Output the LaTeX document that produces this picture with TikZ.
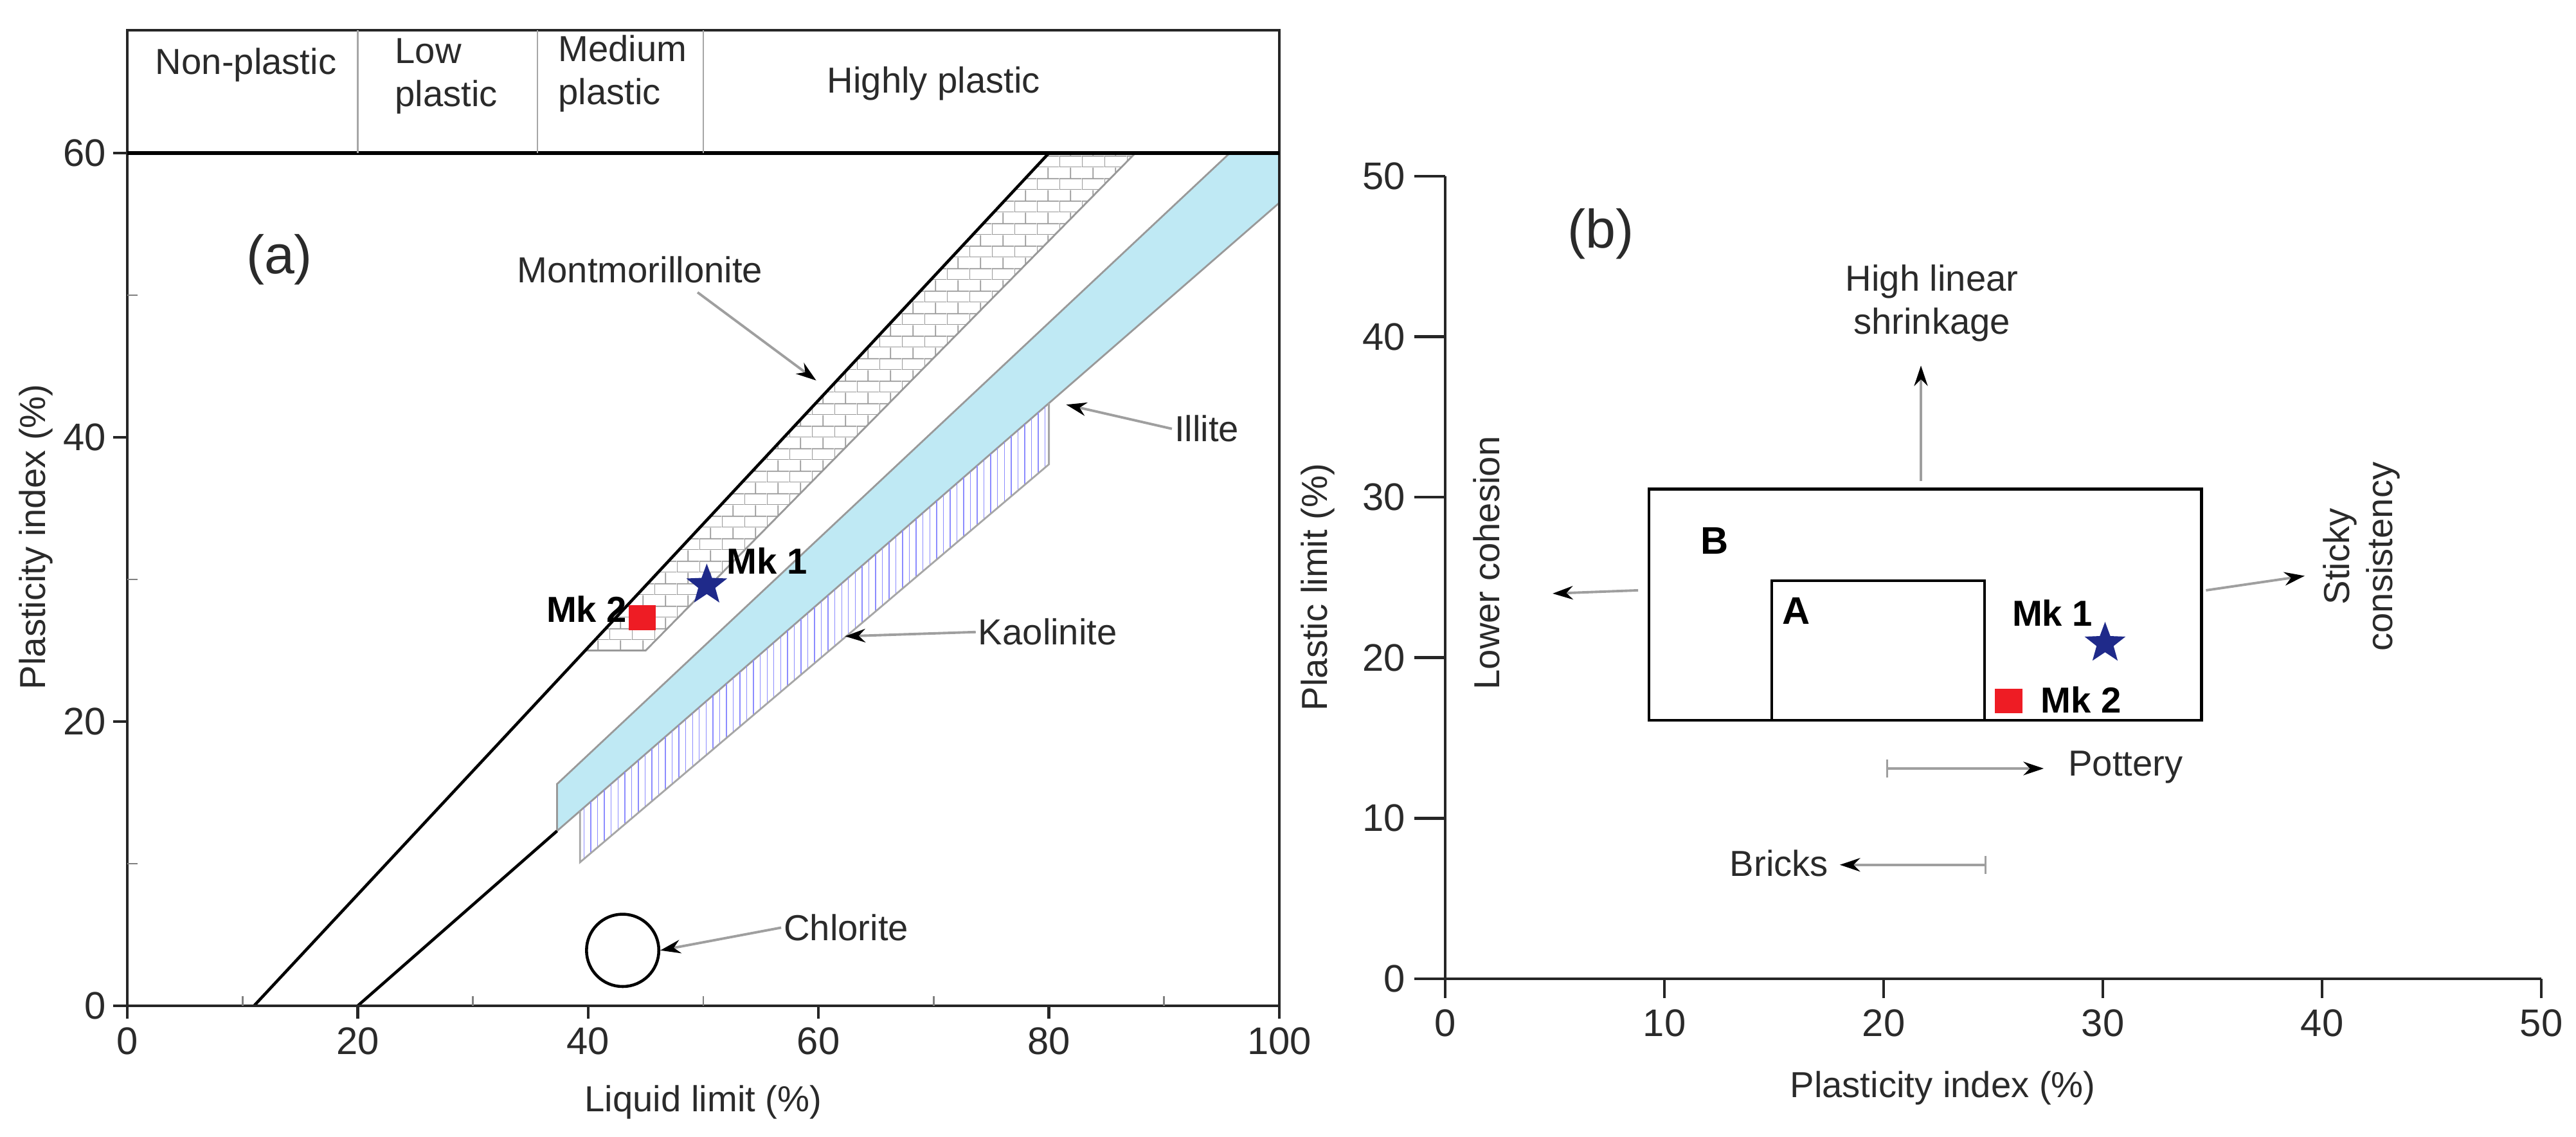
\documentclass[tikz,border=0pt]{standalone}
\usepackage{fontspec}
\setmainfont{Liberation Sans}
\usetikzlibrary{patterns,shapes.geometric,arrows.meta}
\definecolor{txt}{HTML}{2A2A2A}
\definecolor{illite}{HTML}{BFE9F4}
\definecolor{navy}{HTML}{1F2A8A}
\definecolor{mkred}{HTML}{EE1C24}
\pgfdeclarepatternformonly{mybricks}{\pgfpointorigin}{\pgfpoint{10pt}{10pt}}{\pgfpoint{10pt}{10pt}}{%
  \pgfsetlinewidth{0.5pt}
  \pgfpathmoveto{\pgfpoint{0pt}{0pt}}\pgfpathlineto{\pgfpoint{10pt}{0pt}}
  \pgfpathmoveto{\pgfpoint{0pt}{5pt}}\pgfpathlineto{\pgfpoint{10pt}{5pt}}
  \pgfpathmoveto{\pgfpoint{0pt}{0pt}}\pgfpathlineto{\pgfpoint{0pt}{5pt}}
  \pgfpathmoveto{\pgfpoint{5pt}{5pt}}\pgfpathlineto{\pgfpoint{5pt}{10pt}}
  \pgfusepath{stroke}}
\tikzset{
  t/.style={text=txt,font=\fontsize{16}{19}\selectfont,inner sep=1pt},
  tick/.style={text=txt,font=\fontsize{17}{20}\selectfont,inner sep=2pt},
  mk/.style={text=black,font=\bfseries\fontsize{16}{19}\selectfont,inner sep=1pt},
  ptr/.style={draw=gray!75,line width=1.1pt,-{Stealth[black,length=9pt,width=6pt]}},
  ax/.style={line width=1.3pt,black!85},
  star5/.style={star,star points=5,star point ratio=2.4,fill=navy,inner sep=0pt,minimum size=19pt},
  sq/.style={fill=mkred,inner sep=0pt,minimum width=12pt,minimum height=11pt}
}
\begin{document}
\begin{tikzpicture}
\useasboundingbox[fill=white] (0,0) rectangle (40.07,17.68);
% ================= panel (a)
\begin{scope}[shift={(1.98,2.04)},xscale=0.1792,yscale=0.221]
 \path[pattern=mybricks,pattern color=gray!80] (39.75,25)--(45,25)--(87.5,60)--(80,60)--cycle;
 \draw[gray!80,line width=0.8pt] (39.75,25)--(45,25)--(87.5,60);
 \filldraw[fill=illite,draw=gray!80,line width=0.8pt] (37.3,12.3)--(37.3,15.6)--(95.7,60)--(100,60)--(100,56.5)--cycle;
 \path[pattern=vertical lines,pattern color=blue!45] (39.3,10.1)--(39.3,13.7)--(80,42.4)--(80,38.1)--cycle;
 \draw[gray!70,line width=0.8pt] (39.3,13.7)--(39.3,10.1)--(80,38.1)--(80,42.4);
 \draw[line width=1.3pt] (11,0)--(80,60);
 \draw[line width=1.3pt] (20,0)--(37.3,12.3);
 \draw[ax] (0,0) rectangle (100,68.64);
 \draw[line width=1.6pt] (0,60)--(100,60);
 \draw[gray!70,line width=0.8pt] (20,60)--(20,68.64) (35.6,60)--(35.6,68.64) (50,60)--(50,68.64);
 \node[t] (hn) at (10.3,66.2) {Non-plastic};
 \node[t,align=left] (hl) at (27.7,65.4) {Low\\plastic};
 \node[t,align=left] (hm) at (43,65.6) {Medium\\plastic};
 \node[t] (hh) at (70,64.9) {Highly plastic};
 \foreach \v in {0,20,...,100} {\draw[ax] (\v,0)--(\v,-0.9); \node[tick,anchor=north] at (\v,-1.2) {\v};}
 \foreach \v in {10,30,...,90} {\draw[gray,line width=0.8pt] (\v,0)--(\v,0.7);}
 \foreach \v in {0,20,40,60} {\draw[ax] (0,\v)--(-1.2,\v); \node[tick,anchor=east] at (-1.4,\v) {\v};}
 \foreach \v in {10,30,50} {\draw[gray,line width=0.8pt] (0,\v)--(0.9,\v);}
 \node[t] (xl) at (50,-6.8) {Liquid limit (\%)};
 \node[t,rotate=90] (yl) at (-7.9,33.0) {Plasticity index (\%)};
 \node[t,font=\fontsize{24}{28}\selectfont] (la) at (13.2,52.5) {(a)};
 \node[t] (mont) at (44.5,51.8) {Montmorillonite};
 \coordinate (montp) at (59.8,44.0);
 \coordinate (monts) at (49.5,50.2);
 \draw[ptr] (monts) -- (montp);
 \node[t] (ill) at (93.7,40.6) {Illite};
 \coordinate (illp) at (81.5,42.3);
 \draw[ptr] (ill.west) -- (illp);
 \node[t] (kao) at (79.9,26.3) {Kaolinite};
 \coordinate (kaop) at (62.3,26.0);
 \draw[ptr] (kao.west) -- (kaop);
 \node[draw,circle,line width=1.3pt,minimum size=32pt,inner sep=0pt] (chl) at (43,3.9) {};
 \node[t] (chlt) at (62.4,5.5) {Chlorite};
 \draw[ptr] (chlt.west) -- (chl.east);
 \node[star5] (mk1) at (50.3,29.6) {};
 \node[mk,anchor=west] (mk1t) at (51.8,31.3) {Mk 1};
 \node[sq] (mk2) at (44.7,27.3) {};
 \node[mk,anchor=east] (mk2t) at (43.6,27.9) {Mk 2};
\end{scope}
% ================= panel (b)
\begin{scope}[shift={(22.48,2.46)},xscale=0.341,yscale=0.2496]
 \draw[ax] (0,50)--(0,0)--(50,0);
 \foreach \v in {0,10,...,50} {\draw[ax] (\v,0)--(\v,-1.2); \node[tick,anchor=north] at (\v,-1.6) {\v};}
 \foreach \v in {0,10,...,50} {\draw[ax] (0,\v)--(-1.4,\v); \node[tick,anchor=east] at (-1.6,\v) {\v};}
 \node[t] (xlb) at (22.7,-6.8) {Plasticity index (\%)};
 \node[t,rotate=90] (ylb) at (-5.8,24.4) {Plastic limit (\%)};
 \node[t,font=\fontsize{24}{28}\selectfont] (lb) at (7.1,46.4) {(b)};
 \draw[line width=1.3pt] (9.3,16.1) rectangle (34.5,30.5);
 \draw[line width=1.3pt] (14.9,16.1) rectangle (24.6,24.8);
 \coordinate (Btop) at (21.7,31.0);
 \coordinate (Bleft) at (8.8,24.2);
 \coordinate (Bright) at (34.7,24.2);
 \node[mk,font=\bfseries\fontsize{17}{20}\selectfont] (B) at (12.3,27.3) {B};
 \node[mk,font=\bfseries\fontsize{17}{20}\selectfont] (A) at (16.0,22.9) {A};
 \node[star5] (mk1b) at (30.1,20.9) {};
 \node[mk] (mk1bt) at (27.7,22.8) {Mk 1};
 \node[sq] (mk2b) at (25.7,17.3) {};
 \node[mk] (mk2bt) at (29.0,17.4) {Mk 2};
 \node[t,align=center] (hls) at (22.2,42.1) {High linear\\shrinkage};
 \coordinate (hlsp) at (21.7,38.2);
 \draw[ptr] (Btop) -- (hlsp);
 \node[t,rotate=90] (lc) at (1.9,25.9) {Lower cohesion};
 \coordinate (lcp) at (4.9,24.0);
 \draw[ptr] (Bleft) -- (lcp);
 \node[t,rotate=90,align=center] (sc) at (41.8,26.3) {Sticky\\consistency};
 \coordinate (scp) at (39.2,25.1);
 \draw[ptr] (Bright) -- (scp);
 \coordinate (po0) at (20.1,13.1);
 \coordinate (po1) at (27.3,13.1);
 \node[t,anchor=west] (pot) at (28.3,13.2) {Pottery};
 \draw[ptr,{Bar[width=8pt]}-{Stealth[black,length=9pt,width=6pt]}] (po0) -- (po1);
 \coordinate (br0) at (24.7,7.1);
 \coordinate (br1) at (18.0,7.1);
 \node[t,anchor=east] (brt) at (17.6,7.2) {Bricks};
 \draw[ptr,{Bar[width=8pt]}-{Stealth[black,length=9pt,width=6pt]}] (br0) -- (br1);
\end{scope}
\end{tikzpicture}
\end{document}
